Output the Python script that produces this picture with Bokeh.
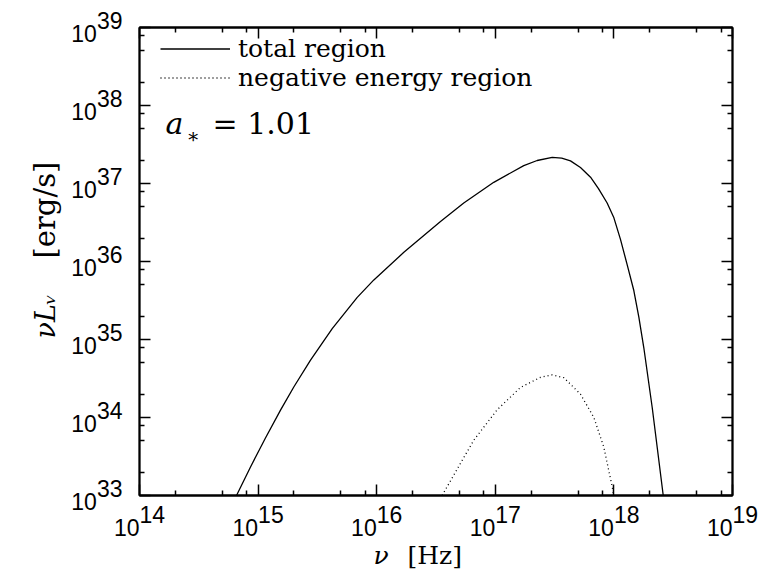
import math
from bokeh.plotting import figure
from bokeh.models import (FixedTicker, LogAxis, CustomJSTickFormatter, Label, Title)
from bokeh.embed import file_html
from bokeh.resources import INLINE

# ---- data (log10 values) ----
log_nu_total = [14.818, 14.936, 15.062, 15.189, 15.301, 15.442, 15.625, 15.836, 15.976,
                16.229, 16.538, 16.734, 16.987, 17.240, 17.353, 17.480, 17.560, 17.634,
                17.718, 17.803, 17.870, 17.943, 18.000, 18.056, 18.110, 18.168, 18.210,
                18.252, 18.323, 18.379, 18.416]
log_L_total = [33.000, 33.366, 33.738, 34.094, 34.391, 34.736, 35.139, 35.540, 35.764,
               36.118, 36.514, 36.749, 37.015, 37.230, 37.295, 37.335, 37.325, 37.290,
               37.205, 37.081, 36.935, 36.750, 36.560, 36.280, 35.970, 35.628, 35.290,
               34.897, 34.128, 33.449, 33.000]
log_nu_neg = [16.552, 16.679, 16.819, 17.016, 17.212, 17.381, 17.480, 17.578, 17.718,
              17.831, 17.915, 17.986, 17.999]
log_L_neg = [33.000, 33.340, 33.710, 34.100, 34.385, 34.515, 34.547, 34.510, 34.300,
             34.000, 33.620, 33.110, 33.000]

x_decades = [14, 15, 16, 17, 18, 19]
y_decades = [33, 34, 35, 36, 37, 38, 39]
minor_mantissas = [2, 5, 8]
legend_labels = ["total region", "negative energy region"]
x_title_var, x_title_unit = "ν", "[Hz]"
y_title_var, y_title_unit = "νLᵥ", "[erg/s]"
spin_label = "= 1.01"

nu_total = [10 ** v for v in log_nu_total]
L_total = [10 ** v for v in log_L_total]
nu_neg = [10 ** v for v in log_nu_neg]
L_neg = [10 ** v for v in log_L_neg]

x_lo, x_hi = 10.0 ** x_decades[0], 10.0 ** x_decades[-1]
y_lo, y_hi = 10.0 ** y_decades[0], 10.0 ** y_decades[-1]

p = figure(width=763, height=572, x_axis_type="log", y_axis_type="log",
           x_range=(x_lo, x_hi), y_range=(y_lo, y_hi),
           output_backend="svg", toolbar_location=None,
           min_border_left=139, min_border_right=31, min_border_top=27, min_border_bottom=77)
p.xgrid.visible = False
p.ygrid.visible = False
p.background_fill_color = "white"
p.border_fill_color = "white"
p.outline_line_color = "black"
p.outline_line_width = 1.8

p.add_layout(LogAxis(), "right")
p.add_layout(LogAxis(), "above")

xticker = FixedTicker(ticks=[10.0 ** d for d in x_decades],
                      minor_ticks=[m * 10.0 ** d for d in x_decades[:-1] for m in minor_mantissas])
yticker = FixedTicker(ticks=[10.0 ** d for d in y_decades],
                      minor_ticks=[m * 10.0 ** d for d in y_decades[:-1] for m in minor_mantissas])
for ax in p.xaxis:
    ax.ticker = xticker
for ax in p.yaxis:
    ax.ticker = yticker

# "10" with a raised exponent: two-line label, exponent line pushed right by figure spaces
power_fmt = CustomJSTickFormatter(code="""
const e = Math.round(Math.log10(tick));
return "\\u2007\\u2007" + e + "\\n10\\u2007\\u2007";
""")
blank_fmt = CustomJSTickFormatter(code="return ''")

for ax in p.axis:
    ax.formatter = blank_fmt
    ax.major_tick_in = 11
    ax.major_tick_out = 0
    ax.minor_tick_in = 5
    ax.minor_tick_out = 0
    ax.axis_line_width = 1.8
    ax.major_tick_line_width = 1.5
    ax.minor_tick_line_width = 1.5
    ax.axis_line_color = "black"
    ax.major_tick_line_color = "black"
    ax.minor_tick_line_color = "black"

for ax in (p.below[0], p.left[0]):
    ax.formatter = power_fmt
    ax.major_label_text_font = "Liberation Sans"
    ax.major_label_text_font_size = "23px"
    ax.major_label_text_line_height = 0.5
    ax.major_label_text_color = "black"
p.below[0].major_label_standoff = 6
p.left[0].major_label_standoff = 17

# axis titles as side-panel titles (pieces share one line via matching standoffs)
serif = "DejaVu Serif"
xt_s = -52
p.add_layout(Title(text=x_title_var, align="left", offset=234, standoff=xt_s,
                   text_font=serif, text_font_size="25px", text_font_style="italic",
                   text_color="black"), "below")
p.add_layout(Title(text=x_title_unit, align="left", offset=268, standoff=xt_s,
                   text_font=serif, text_font_size="25px", text_font_style="normal",
                   text_color="black"), "below")
yt_s1 = 15
p.add_layout(Title(text=y_title_var, align="left", offset=157, standoff=yt_s1,
                   text_font=serif, text_font_size="27px", text_font_style="italic",
                   text_color="black"), "left")
p.add_layout(Title(text=y_title_unit, align="left", offset=237, standoff=-yt_s1 - 67,
                   text_font=serif, text_font_size="29px", text_font_style="normal",
                   text_color="black"), "left")

r1 = p.line(nu_total, L_total, line_color="black", line_width=1.3, legend_label=legend_labels[0])
r2 = p.line(nu_neg, L_neg, line_color="black", line_width=1.3, line_dash="1 3",
            legend_label=legend_labels[1])

lg = p.legend[0]
lg.location = (21, 403)
lg.border_line_color = None
lg.background_fill_alpha = 0
lg.label_text_font = serif
lg.label_text_font_size = "25px"
lg.label_text_color = "black"
lg.glyph_width = 70
lg.glyph_height = 27
lg.label_height = 27
lg.label_standoff = 8
lg.padding = 0
lg.margin = 0
lg.spacing = 0

# ---- a_* = 1.01 annotation ----
p.add_layout(Label(x=x_lo, y=y_hi, text="a", x_offset=26, y_offset=-113, text_font=serif,
                   text_font_style="italic", text_font_size="30px", text_color="black"))
p.add_layout(Label(x=x_lo, y=y_hi, text="∗", x_offset=47, y_offset=-120, text_font=serif,
                   text_font_size="20px", text_color="black"))
p.add_layout(Label(x=x_lo, y=y_hi, text=spin_label, x_offset=73, y_offset=-113,
                   text_font=serif, text_font_size="30px", text_color="black"))

open("out.html", "w").write(file_html(p, INLINE))
